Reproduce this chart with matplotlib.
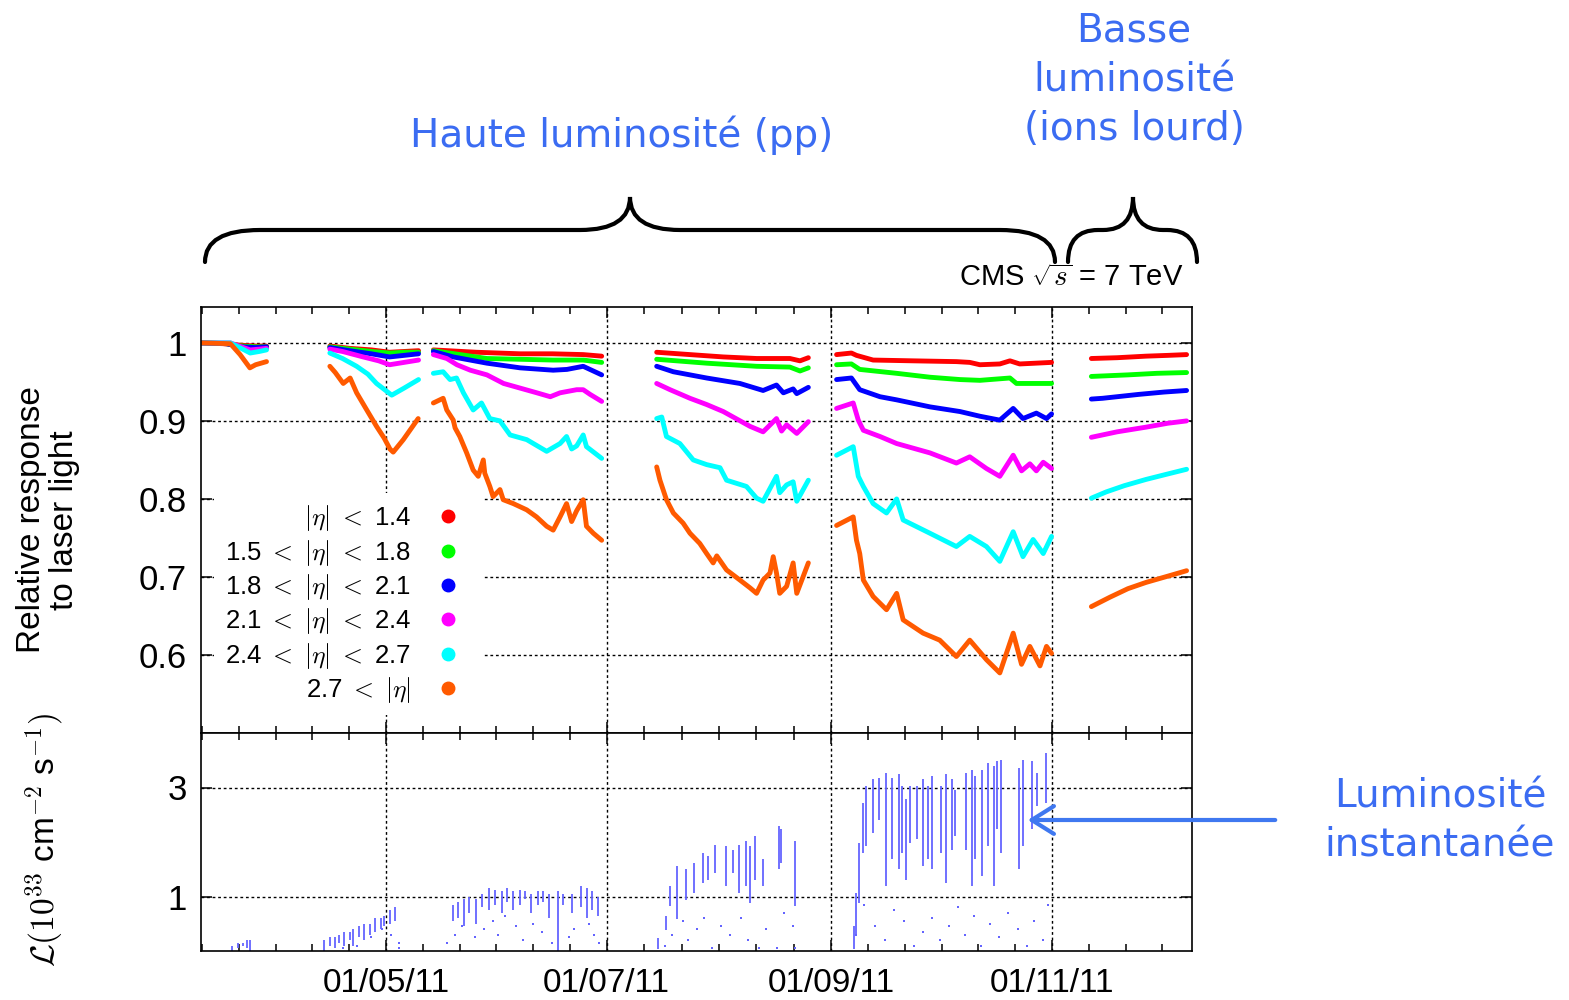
import numpy as np
import matplotlib.pyplot as plt
from matplotlib.lines import Line2D
from matplotlib.path import Path
from matplotlib.patches import PathPatch, FancyArrowPatch

plt.rcParams['font.family'] = ['Liberation Sans', 'DejaVu Sans']
plt.rcParams['mathtext.fontset'] = 'cm'

nan = np.nan
W, H = 1569, 1000

# x = jours depuis le 01/01/11, (nan, nan) = arret entre deux periodes
red = [(69, 1.0), (75, 0.999), (80, 0.997), (84, 0.996), (87, 0.996), (nan, nan),
       (104.5, 0.996), (110, 0.993), (116, 0.991), (121, 0.988), (125, 0.989), (129, 0.990), (nan, nan),
       (133.1, 0.991), (145, 0.988), (157.1, 0.986), (166, 0.986), (174.5, 0.985), (179.6, 0.983), (nan, nan),
       (194.8, 0.988), (204.0, 0.985), (213.2, 0.982), (222.4, 0.980), (231.6, 0.980), (234.4, 0.977), (236.7, 0.981), (nan, nan),
       (244.5, 0.985), (248.6, 0.987), (250.0, 0.984), (254.6, 0.978), (265.7, 0.977), (277.6, 0.976), (281.3, 0.975),
       (284.1, 0.972), (289.6, 0.973), (292.4, 0.977), (295.1, 0.973), (303.9, 0.975), (nan, nan),
       (314.9, 0.980), (322, 0.981), (330, 0.983), (336, 0.984), (341.2, 0.985)]
green = [(69, 1.0), (76, 0.999), (80, 0.996), (84, 0.995), (87, 0.995), (nan, nan),
         (104.5, 0.995), (110, 0.992), (116, 0.989), (121, 0.987), (125, 0.988), (129, 0.988), (nan, nan),
         (133.1, 0.990), (147.9, 0.980), (166.2, 0.978), (174.5, 0.978), (179.6, 0.975), (nan, nan),
         (194.8, 0.979), (208.6, 0.974), (222.4, 0.970), (231.6, 0.969), (234.4, 0.964), (236.7, 0.968), (nan, nan),
         (244.5, 0.972), (248.6, 0.973), (250.9, 0.966), (261.1, 0.961), (270.3, 0.956), (278.6, 0.953),
         (284.1, 0.952), (292.4, 0.955), (294.2, 0.948), (303.9, 0.948), (nan, nan),
         (314.9, 0.957), (325, 0.959), (333, 0.961), (341.2, 0.962)]
blue = [(69, 1.0), (76, 0.999), (80, 0.995), (84, 0.994), (87, 0.995), (nan, nan),
        (104.5, 0.994), (110, 0.990), (116, 0.986), (121, 0.982), (125, 0.984), (129, 0.986), (nan, nan),
        (133.1, 0.989), (138.6, 0.982), (147.9, 0.974), (157.1, 0.968), (166.2, 0.965), (170, 0.966),
        (174.5, 0.970), (179.6, 0.959), (nan, nan),
        (194.8, 0.970), (199.4, 0.963), (208.6, 0.955), (217.8, 0.948), (224.2, 0.939), (227.9, 0.946),
        (229.8, 0.936), (232.5, 0.941), (233.5, 0.935), (236.7, 0.943), (nan, nan),
        (244.5, 0.953), (248.6, 0.955), (250.9, 0.940), (256.5, 0.931), (261.1, 0.927), (270.3, 0.918),
        (278.6, 0.912), (284.1, 0.906), (289.6, 0.901), (293.3, 0.916), (296.0, 0.903), (299.7, 0.910),
        (302.5, 0.903), (303.9, 0.909), (nan, nan),
        (314.9, 0.928), (318, 0.929), (322, 0.931), (328, 0.934), (335, 0.937), (341.2, 0.939)]
magenta = [(69, 1.0), (77, 1.0), (80, 0.995), (82.5, 0.991), (85, 0.992), (87, 0.993), (nan, nan),
           (104.5, 0.992), (108, 0.989), (113.7, 0.982), (118, 0.977), (121, 0.972), (125, 0.975), (129, 0.978), (nan, nan),
           (133.1, 0.985), (136.8, 0.980), (139.6, 0.972), (143.3, 0.965), (147.9, 0.959), (152.5, 0.948),
           (157.1, 0.942), (161.7, 0.936), (165.4, 0.931), (168.1, 0.936), (172.7, 0.940), (174.5, 0.940),
           (176.4, 0.934), (179.6, 0.925), (nan, nan),
           (194.8, 0.948), (198.5, 0.940), (204.0, 0.929), (208.6, 0.921), (213.2, 0.912), (220.6, 0.893),
           (224.2, 0.886), (227.9, 0.903), (229.3, 0.887), (230.7, 0.895), (233.5, 0.884), (236.7, 0.899), (nan, nan),
           (244.5, 0.916), (249.1, 0.923), (250.5, 0.901), (251.9, 0.888), (256.5, 0.880), (261.1, 0.871),
           (265.7, 0.865), (270.3, 0.859), (277.6, 0.846), (281.3, 0.854), (285.9, 0.839), (289.6, 0.829),
           (293.3, 0.856), (295.6, 0.836), (297.9, 0.845), (299.7, 0.836), (301.6, 0.847), (303.9, 0.839), (nan, nan),
           (314.9, 0.879), (322, 0.886), (330, 0.892), (336, 0.897), (341.2, 0.900)]
cyan = [(69, 1.0), (77, 1.0), (80, 0.993), (82.5, 0.987), (85, 0.989), (87, 0.991), (nan, nan),
        (104.5, 0.987), (108, 0.980), (111.9, 0.970), (115, 0.960), (117.4, 0.948), (121.6, 0.933),
        (125, 0.942), (129, 0.953), (nan, nan),
        (133.1, 0.961), (135.8, 0.963), (137.7, 0.953), (139.5, 0.955), (141.4, 0.936), (144.1, 0.914),
        (146.4, 0.923), (148.7, 0.903), (151.5, 0.900), (154.3, 0.882), (158.9, 0.876), (164.4, 0.861),
        (168.1, 0.871), (169.9, 0.880), (171.3, 0.864), (172.7, 0.868), (174.5, 0.882), (175.4, 0.867),
        (179.6, 0.852), (nan, nan),
        (194.8, 0.903), (196.2, 0.905), (197.5, 0.880), (201.2, 0.871), (204.9, 0.850), (208.6, 0.844),
        (212.3, 0.840), (214.1, 0.824), (219.6, 0.816), (222.4, 0.801), (224.2, 0.797), (227.9, 0.829),
        (228.8, 0.808), (230.7, 0.818), (232.5, 0.822), (233.5, 0.797), (236.7, 0.824), (nan, nan),
        (244.5, 0.856), (249.1, 0.867), (250.5, 0.829), (251.9, 0.816), (254.6, 0.794), (258.3, 0.782),
        (261.1, 0.800), (262.9, 0.773), (270.3, 0.756), (277.6, 0.739), (281.3, 0.752), (285.9, 0.739),
        (289.6, 0.720), (293.3, 0.758), (296.0, 0.726), (298.8, 0.748), (301.6, 0.730), (303.9, 0.752), (nan, nan),
        (314.9, 0.801), (319, 0.809), (324, 0.817), (330, 0.825), (336, 0.832), (341.2, 0.838)]
orange = [(69, 1.0), (77, 0.999), (79.7, 0.985), (82.4, 0.968), (84, 0.972), (87, 0.976), (nan, nan),
          (104.5, 0.970), (106, 0.962), (108.2, 0.948), (110.1, 0.955), (111.9, 0.936), (114.7, 0.914),
          (117.4, 0.893), (119.5, 0.878), (121.1, 0.864), (122, 0.860), (124.8, 0.876), (128.9, 0.903), (nan, nan),
          (133.1, 0.923), (135.8, 0.929), (136.8, 0.914), (138.6, 0.901), (139.1, 0.891), (140.4, 0.880),
          (142.3, 0.859), (144.1, 0.837), (145.5, 0.829), (146.9, 0.850), (147.3, 0.833), (148.7, 0.816),
          (149.6, 0.803), (151.5, 0.812), (152.4, 0.799), (155.2, 0.794), (158.9, 0.786), (161.6, 0.777),
          (164.4, 0.765), (166.2, 0.760), (168.1, 0.777), (169.9, 0.794), (171.3, 0.771), (172.7, 0.785),
          (174.5, 0.799), (175.4, 0.765), (177.3, 0.756), (179.6, 0.747), (nan, nan),
          (194.8, 0.841), (195.7, 0.824), (197.5, 0.799), (199.4, 0.782), (202.1, 0.769), (204.0, 0.756),
          (206.7, 0.743), (208.6, 0.730), (210.4, 0.718), (211.4, 0.727), (214.1, 0.709), (217.8, 0.696),
          (220.6, 0.686), (222.4, 0.679), (224.2, 0.696), (226.1, 0.705), (227.0, 0.726), (227.9, 0.705),
          (228.8, 0.679), (230.7, 0.688), (232.5, 0.718), (233.5, 0.679), (236.7, 0.718), (nan, nan),
          (244.5, 0.766), (249.1, 0.777), (250.0, 0.747), (250.9, 0.730), (251.9, 0.696), (254.6, 0.675),
          (258.3, 0.658), (261.1, 0.679), (262.9, 0.645), (268.4, 0.628), (273.0, 0.619), (277.6, 0.598),
          (281.3, 0.619), (285.9, 0.594), (289.6, 0.577), (293.3, 0.628), (295.6, 0.588), (297.9, 0.611),
          (300.7, 0.586), (302.5, 0.611), (303.9, 0.602), (nan, nan),
          (314.9, 0.662), (320, 0.674), (325, 0.685), (330, 0.693), (336, 0.701), (341.2, 0.708)]

series = [red, green, blue, magenta, cyan, orange]
colors = ['#ff0000', '#00ff00', '#0000ff', '#ff00ff', '#00ffff', '#ff5a00']
labels = [r'$|\eta|$ $<$ 1.4', r'1.5 $<$ $|\eta|$ $<$ 1.8', r'1.8 $<$ $|\eta|$ $<$ 2.1',
          r'2.1 $<$ $|\eta|$ $<$ 2.4', r'2.4 $<$ $|\eta|$ $<$ 2.7', r'2.7 $<$ $|\eta|$']

# luminosite instantanee : (jour, min, max) de chaque fill
lumi_fills = [(77.5, 0.0, 0.1), (79, 0.05, 0.15), (80.5, 0.1, 0.15), (81.5, 0.05, 0.2), (82.5, 0.0, 0.2),
              (103, 0.0, 0.2), (104.5, 0.1, 0.25), (106, 0.05, 0.25), (107, 0.15, 0.3), (108.5, 0.1, 0.35),
              (110, 0.2, 0.35), (111, 0.1, 0.4), (112.5, 0.25, 0.45), (114, 0.2, 0.5), (115.5, 0.3, 0.5),
              (117, 0.35, 0.6), (118.5, 0.4, 0.6), (119.5, 0.45, 0.65), (121, 0.5, 0.75), (122.5, 0.55, 0.8),
              (138.5, 0.55, 0.85), (140, 0.6, 0.9), (141.5, 0.45, 0.95), (143, 0.7, 1.0), (145, 0.5, 0.95),
              (146.5, 0.8, 1.05), (148.5, 0.75, 1.15), (150, 0.85, 1.12), (152, 0.7, 1.1), (153.5, 0.9, 1.15),
              (155, 0.75, 1.1), (157, 0.85, 1.12), (158.5, 0.95, 1.1), (160, 0.7, 1.05), (162, 0.85, 1.1),
              (163.5, 0.9, 1.1), (165, 0.6, 1.05), (167.5, 0.0, 1.1), (169, 0.85, 1.05), (171.5, 0.7, 1.05),
              (174, 0.8, 1.2), (175.5, 0.6, 1.15), (177, 0.75, 1.1), (178.5, 0.65, 1.0),
              (195.2, 0.03, 0.24), (197.4, 0.39, 0.64), (198.5, 0.82, 1.19), (200.5, 0.58, 1.56),
              (203.0, 0.94, 1.50), (205.0, 1.07, 1.62), (207.5, 1.25, 1.80), (209.0, 1.31, 1.74),
              (211.0, 1.43, 1.95), (214.0, 1.19, 1.92), (216.0, 1.43, 1.86), (217.5, 1.07, 1.95),
              (219.5, 1.19, 2.02), (220.5, 0.88, 1.92), (222.1, 1.31, 2.11), (224.1, 1.19, 1.68),
              (228.6, 1.50, 2.29), (229.1, 1.62, 2.23), (233.1, 0.82, 2.02),
              (249.3, 0.03, 0.46), (249.9, 0.27, 1.07), (250.7, 0.88, 1.98), (251.7, 1.80, 2.72),
              (252.7, 1.92, 3.02), (254.7, 2.17, 3.15), (256.2, 2.41, 3.18), (258.2, 1.19, 3.27),
              (259.7, 1.68, 3.18), (261.7, 1.50, 3.24), (262.7, 1.80, 3.02), (263.7, 1.31, 2.78),
              (264.7, 1.98, 3.02), (266.8, 2.05, 3.02), (268.3, 1.56, 3.15), (269.8, 1.68, 3.02),
              (270.8, 1.50, 3.21), (273.3, 1.80, 3.02), (274.8, 1.25, 3.24), (276.3, 1.86, 3.15),
              (277.3, 2.11, 2.96), (280.3, 1.86, 3.27), (281.8, 1.19, 3.33), (282.8, 1.68, 3.21),
              (284.8, 1.37, 3.33), (286.3, 1.92, 3.45), (287.9, 1.19, 3.39), (288.9, 2.23, 3.48),
              (289.9, 1.80, 3.51), (294.9, 1.50, 3.36), (295.9, 1.92, 3.51), (298.4, 2.23, 3.48),
              (299.9, 2.66, 3.27), (302.4, 2.72, 3.64)]
lumi_points = [(108, 0.05), (112, 0.1), (116, 0.25), (119, 0.4), (121.5, 0.3), (123.5, 0.15), (123.5, 0.05),
               (137, 0.15), (139, 0.3), (141, 0.45), (144.5, 0.25), (147, 0.4), (149.5, 0.55), (151, 0.3),
               (153, 0.65), (156, 0.45), (158, 0.2), (160.5, 0.5), (163, 0.35), (166, 0.15), (170.5, 0.25),
               (172, 0.4), (176, 0.5), (177.5, 0.3), (179, 0.15),
               (197, 0.1), (199, 0.3), (202, 0.55), (203.5, 0.2), (206, 0.4), (208, 0.6), (210, 0.05),
               (212.5, 0.45), (215, 0.3), (218, 0.6), (220, 0.2), (223, 0.05), (225, 0.4), (228, 0.05),
               (230, 0.7), (232.5, 0.45), (233, 0.05),
               (250, 0.3), (252, 0.85), (255, 0.45), (258, 0.2), (260.5, 0.75), (263, 0.55), (266, 0.1),
               (268.5, 0.35), (271, 0.6), (273, 0.2), (275.5, 0.45), (278, 0.8), (280, 0.3), (282.5, 0.65),
               (284.5, 0.1), (287, 0.5), (289.5, 0.25), (292, 0.7), (294.5, 0.4), (297, 0.1), (299, 0.55),
               (301.5, 0.2), (303, 0.85)]

major_days = [120, 181, 243, 304]
major_labels = ['01/05/11', '01/07/11', '01/09/11', '01/11/11']

fig = plt.figure(figsize=(W / 100, H / 100), dpi=100)
ax1 = fig.add_axes([201 / W, 1 - 733 / H, 991 / W, 426 / H])
ax2 = fig.add_axes([201 / W, 1 - 951 / H, 991 / W, 218 / H], sharex=ax1)

for s, c in zip(series, colors):
    d = np.array(s)
    ax1.plot(d[:, 0], d[:, 1], color=c, lw=3.5, solid_capstyle='round')

f = np.array(lumi_fills)
ax2.vlines(f[:, 0], f[:, 1], f[:, 2], color='#6464ff', lw=1.3)
p = np.array(lumi_points)
ax2.plot(p[:, 0], p[:, 1], 's', color='#6464ff', ms=1.6, mew=0)

# minor ticks: 6 intervalles entre deux dates
step0 = (major_days[1] - major_days[0]) / 6
minor = [major_days[0] - k * step0 for k in range(1, 6)]
for a, b in zip(major_days[:-1], major_days[1:]):
    minor += list(np.linspace(a, b, 7)[1:-1])
step1 = (major_days[-1] - major_days[-2]) / 6
minor += [major_days[-1] + k * step1 for k in range(1, 4)]

grid_kw = dict(color='black', lw=1.0, linestyle=(0, (2, 2)))
for ax in (ax1, ax2):
    ax.set_xlim(68.9, 342.7)
    ax.set_xticks(major_days)
    ax.set_xticks(minor, minor=True)
    ax.tick_params(which='both', direction='in', top=True, right=True, width=1.1, labelsize=24)
    ax.tick_params(which='major', length=8)
    ax.tick_params(which='minor', length=5)
    ax.grid(True, which='major', **grid_kw)
    for sp in ax.spines.values():
        sp.set_linewidth(1.2)

ax1.set_ylim(0.5, 1.046)
ax1.set_yticks([0.6, 0.7, 0.8, 0.9, 1.0])
ax1.set_yticklabels(['0.6', '0.7', '0.8', '0.9', '1'])
ax1.tick_params(axis='x', labelbottom=False)
ax1.tick_params(axis='y', pad=10, labelsize=25)

ax2.set_ylim(0, 4)
ax2.set_yticks([1, 3])
ax2.set_xticklabels(major_labels)
ax2.tick_params(axis='x', pad=12)
ax2.tick_params(axis='y', pad=10, labelsize=25)

handles = [Line2D([], [], ls='none', marker='o', ms=9, color=c) for c in colors]
leg = ax1.legend(handles, labels, loc='upper right', bbox_to_anchor=((483 - 201) / 991, (733 - 493) / 426),
                 markerfirst=False, fontsize=18.5, frameon=True, fancybox=False, edgecolor='none',
                 framealpha=1, borderaxespad=0, borderpad=0.4, handlelength=1.9, handletextpad=0.5,
                 labelspacing=0.17)
for t in leg.get_texts():
    t.set_ha('right')
leg._legend_box.align = 'right'

fig.text(48 / W, 1 - 520 / H, 'Relative response\nto laser light', rotation=90, ha='center', va='center',
         fontsize=24, linespacing=1.05)
fig.text(45 / W, 1 - 840 / H, r'$\mathcal{L}(10^{33}$ cm$^{-2}$ s$^{-1})$', rotation=90, ha='center',
         va='center', fontsize=24)
fig.text(1183 / W, 1 - 278 / H, r'CMS $\sqrt{s}$ = 7 TeV', ha='right', va='center', fontsize=21)

blue_txt = '#3b6cf2'
fig.text(622 / W, 1 - 135 / H, 'Haute luminosité (pp)', ha='center', va='center', fontsize=28,
         color=blue_txt, family='DejaVu Sans')
fig.text(1134 / W, 1 - 80 / H, 'Basse\nluminosité\n(ions lourd)', ha='center', va='center', fontsize=28,
         color=blue_txt, family='DejaVu Sans', linespacing=1.38, multialignment='center')
fig.text(1440 / W, 1 - 821 / H, 'Luminosité\ninstantanée', ha='center', va='center', fontsize=28,
         color=blue_txt, family='DejaVu Sans', linespacing=1.38, multialignment='center')


def brace(x0, x1, xm, y_end, y_bar, y_tip, r_end, r_tip):
    pts = [(x0, y_end), (x0, y_bar), (x0 + r_end, y_bar),
           (xm - r_tip, y_bar), (xm, y_bar), (xm, y_tip),
           (xm, y_bar), (xm + r_tip, y_bar),
           (x1 - r_end, y_bar), (x1, y_bar), (x1, y_end)]
    codes = [Path.MOVETO, Path.CURVE3, Path.CURVE3, Path.LINETO, Path.CURVE3, Path.CURVE3,
             Path.CURVE3, Path.CURVE3, Path.LINETO, Path.CURVE3, Path.CURVE3]
    verts = [(x / W, 1 - y / H) for x, y in pts]
    fig.add_artist(PathPatch(Path(verts, codes), transform=fig.transFigure, fill=False,
                             lw=3, edgecolor='black', capstyle='round'))


brace(205, 1055, 630, 262, 230, 197, 55, 50)
brace(1068, 1197, 1133, 262, 230, 197, 30, 30)

fig.add_artist(FancyArrowPatch((1278 / W, 1 - 820 / H), (1025 / W, 1 - 820 / H), transform=fig.transFigure,
                               arrowstyle='->,head_length=0.8,head_width=0.5', mutation_scale=20,
                               color='#3f78f0', lw=3))

fig.savefig('out.png', dpi=100)
